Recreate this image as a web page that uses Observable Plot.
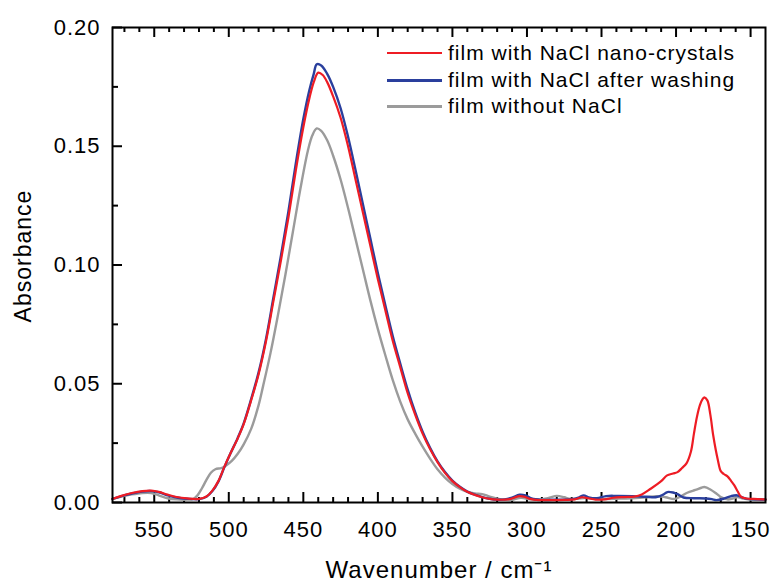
<!DOCTYPE html>
<html>
<head>
<meta charset="utf-8">
<script src="https://cdn.jsdelivr.net/npm/d3@7"></script>
<script src="https://cdn.jsdelivr.net/npm/@observablehq/plot@0.6"></script>
<style>
  body { margin: 0; background: #fff; }
  #wrap { position: relative; width: 772px; height: 583px; font-family: "Liberation Sans", Arial, sans-serif; }
  #wrap svg text { letter-spacing: 1px; }
  .leg { position: absolute; left: 387px; height: 20px; display: flex; align-items: center; font-size: 21px; letter-spacing: 1px; color: #000; white-space: nowrap; }
  .leg span.sw { display: inline-block; width: 55px; margin-right: 6px; }
</style>
</head>
<body>
<div id="wrap"></div>
<script>
// ---- data ----
const seriesNames = ["film with NaCl nano-crystals", "film with NaCl after washing", "film without NaCl"];
const seriesColors = ["#ee1c24", "#2a3f9d", "#9b9b9b"];

const redWn = [578,572,565,558,552,547,541,535,528,520,515,511,507,503,499,494,490,485,480,475,470,465,460,455,450,446,443,440,437,434,430,425,420,415,410,405,400,395,390,385,380,375,370,365,360,355,350,345,340,335,330,325,320,315,311,306,302,298,292,285,275,268,263,259,254,248,242,235,228,223,217,210,206,202,199,196,193,190,188,186,184,182,181,179,177,175,172,170,168,165.5,163,161,158.5,156.5,153,148,140];
const redAbs = [0.0015,0.0028,0.0040,0.0048,0.0050,0.0045,0.0033,0.0023,0.0017,0.0015,0.0025,0.0050,0.0090,0.0150,0.0205,0.0270,0.0330,0.0430,0.0540,0.0680,0.0850,0.1020,0.1200,0.1400,0.1580,0.1700,0.1770,0.1810,0.1800,0.1770,0.1710,0.1620,0.1500,0.1360,0.1220,0.1080,0.0940,0.0810,0.0680,0.0570,0.0460,0.0370,0.0290,0.0225,0.0170,0.0125,0.0090,0.0065,0.0045,0.0032,0.0022,0.0015,0.0012,0.0012,0.0015,0.0026,0.0025,0.0015,0.0010,0.0010,0.0011,0.0013,0.0022,0.0018,0.0012,0.0013,0.0020,0.0023,0.0025,0.0034,0.0058,0.0090,0.0114,0.0122,0.0128,0.0145,0.0165,0.0215,0.0290,0.0360,0.0410,0.0437,0.0443,0.0430,0.0370,0.0280,0.0180,0.0132,0.0120,0.0110,0.0090,0.0073,0.0045,0.0025,0.0017,0.0015,0.0013];

const blueWn = [578,572,565,558,552,547,541,535,528,520,515,511,507,503,499,494,490,485,480,475,470,465,460,455,450,446,443,441,438,434,430,425,420,415,410,405,400,395,390,385,380,375,370,365,360,355,350,345,340,335,330,325,320,315,310,305,301,297,290,280,270,265,262,258,253,247,240,229,220,213,209,205.8,202,199,195,188,180,176,173,168,163,159,155,152,145,140];
const blueAbs = [0.0015,0.0027,0.0038,0.0046,0.0048,0.0043,0.0030,0.0021,0.0016,0.0014,0.0024,0.0048,0.0088,0.0148,0.0205,0.0272,0.0333,0.0435,0.0548,0.0690,0.0865,0.1040,0.1225,0.1430,0.1615,0.1735,0.1805,0.1845,0.1840,0.1805,0.1750,0.1660,0.1540,0.1400,0.1255,0.1110,0.0965,0.0830,0.0700,0.0585,0.0475,0.0380,0.0298,0.0230,0.0173,0.0128,0.0092,0.0066,0.0046,0.0033,0.0023,0.0016,0.0012,0.0013,0.0020,0.0033,0.0030,0.0017,0.0011,0.0012,0.0014,0.0022,0.0030,0.0020,0.0018,0.0027,0.0028,0.0027,0.0024,0.0023,0.0032,0.0044,0.0042,0.0035,0.0021,0.0018,0.0017,0.0014,0.0010,0.0016,0.0027,0.0030,0.0020,0.0015,0.0013,0.0012];

const grayWn = [578,572,565,558,552,547,541,535,528,524,521,518,515,512,509,505,502,498,494,490,485,480,477,472,467,462,457,452,447,444,441,438,434,430,425,420,415,410,405,400,395,390,385,380,375,370,365,360,355,350,345,340,335,330,325,318,311,304,298,292,285,280,275,271,266,260,253,247,240,230,220,213,207,201,197,192.5,187,183,181,177,173,170,165.5,162,159,155,150,140];
const grayAbs = [0.0015,0.0025,0.0034,0.0040,0.0040,0.0030,0.0018,0.0013,0.0012,0.0014,0.0030,0.0060,0.0095,0.0125,0.0140,0.0145,0.0155,0.0175,0.0205,0.0245,0.0310,0.0410,0.0490,0.0630,0.0790,0.0960,0.1140,0.1320,0.1480,0.1545,0.1575,0.1565,0.1525,0.1460,0.1360,0.1240,0.1110,0.0980,0.0850,0.0730,0.0620,0.0515,0.0425,0.0350,0.0290,0.0235,0.0185,0.0140,0.0105,0.0078,0.0058,0.0045,0.0038,0.0035,0.0025,0.0014,0.0010,0.0020,0.0013,0.0012,0.0020,0.0028,0.0022,0.0015,0.0016,0.0020,0.0016,0.0015,0.0016,0.0018,0.0022,0.0027,0.0022,0.0015,0.0025,0.0041,0.0053,0.0062,0.0065,0.0055,0.0038,0.0023,0.0013,0.0017,0.0023,0.0017,0.0012,0.0012];

const xMajorTicks = [550, 500, 450, 400, 350, 300, 250, 200, 150];
const xMinorTicks = [570, 560, 540, 530, 520, 510, 490, 480, 470, 460, 440, 430, 420, 410, 390, 380, 370, 360, 340, 330, 320, 310, 290, 280, 270, 260, 240, 230, 220, 210, 190, 180, 170, 160];
const yMajorTicks = [0.00, 0.05, 0.10, 0.15, 0.20];
const yMinorTicks = [0.025, 0.075, 0.125, 0.175];
const xTitle = "Wavenumber / cm\u207B\u00B9";
const yTitle = "Absorbance";

// ---- build tables ----
const toRows = (wn, ab, s) => wn.map((w, i) => ({wn: w, abs: ab[i], series: s}));
const red = toRows(redWn, redAbs, seriesNames[0]);
const blue = toRows(blueWn, blueAbs, seriesNames[1]);
const gray = toRows(grayWn, grayAbs, seriesNames[2]);

const W = 772, H = 583, mL = 112, mR = 7, mT = 27, mB = 81;
const plotW = W - mL - mR, plotH = H - mT - mB;
const yDomain = [0, 0.2];
const pxToY = (px) => px * (yDomain[1] - yDomain[0]) / plotH; // pixel length -> y units

// inward x ticks (bottom and top) as rules whose length is converted from pixels
const xTicksIn = (ticks, len) => [
  Plot.ruleX(ticks, {x: d => d, y1: yDomain[0], y2: yDomain[0] + pxToY(len), stroke: "#000", strokeWidth: 2}),
  Plot.ruleX(ticks, {x: d => d, y1: yDomain[1] - pxToY(len), y2: yDomain[1], stroke: "#000", strokeWidth: 2})
];

const chart = Plot.plot({
  width: W, height: H,
  marginLeft: mL, marginRight: mR, marginTop: mT, marginBottom: mB,
  style: {fontFamily: "'Liberation Sans', Arial, sans-serif", fontSize: "22px", color: "#000", background: "#fff"},
  x: {domain: [578, 140]},
  y: {domain: yDomain},
  marks: [
    Plot.axisX(xMajorTicks, {tickSize: 0, tickPadding: 19, fontSize: 22, label: null}),
    Plot.axisY(yMajorTicks, {tickSize: 0, tickPadding: 12, fontSize: 22, tickFormat: d3.format(".2f"), label: null}),
    ...xTicksIn(xMajorTicks, 10),
    ...xTicksIn(xMinorTicks, 5),
    Plot.ruleY(yMajorTicks, {y: d => d, insetRight: plotW - 10, stroke: "#000", strokeWidth: 2}),
    Plot.ruleY(yMinorTicks, {y: d => d, insetRight: plotW - 6, stroke: "#000", strokeWidth: 2}),
    // spectra
    Plot.line(gray, {x: "wn", y: "abs", stroke: seriesColors[2], strokeWidth: 2.4, curve: "catmull-rom"}),
    Plot.line(blue, {x: "wn", y: "abs", stroke: seriesColors[1], strokeWidth: 2.4, curve: "catmull-rom"}),
    Plot.line(red, {x: "wn", y: "abs", stroke: seriesColors[0], strokeWidth: 2.2, curve: "catmull-rom"}),
    Plot.frame({stroke: "#000", strokeWidth: 2}),
    Plot.text([xTitle], {text: d => d, frameAnchor: "bottom", textAnchor: "middle", lineAnchor: "middle", dy: 68, fontSize: 24}),
    Plot.text([yTitle], {text: d => d, frameAnchor: "left", textAnchor: "middle", lineAnchor: "middle", dx: -89, dy: -9, rotate: -90, fontSize: 23})
  ]
});

const wrap = document.getElementById("wrap");
wrap.appendChild(chart);

// legend (inside the frame, top right)
const legTops = [43, 70, 96];
seriesNames.forEach((name, i) => {
  const d = document.createElement("div");
  d.className = "leg";
  d.style.top = legTops[i] + "px";
  const sw = document.createElement("span");
  sw.className = "sw";
  sw.style.borderTop = (i === 0 ? 2 : 3) + "px solid " + seriesColors[i];
  d.appendChild(sw);
  d.appendChild(document.createTextNode(name));
  wrap.appendChild(d);
});
</script>
</body>
</html>
